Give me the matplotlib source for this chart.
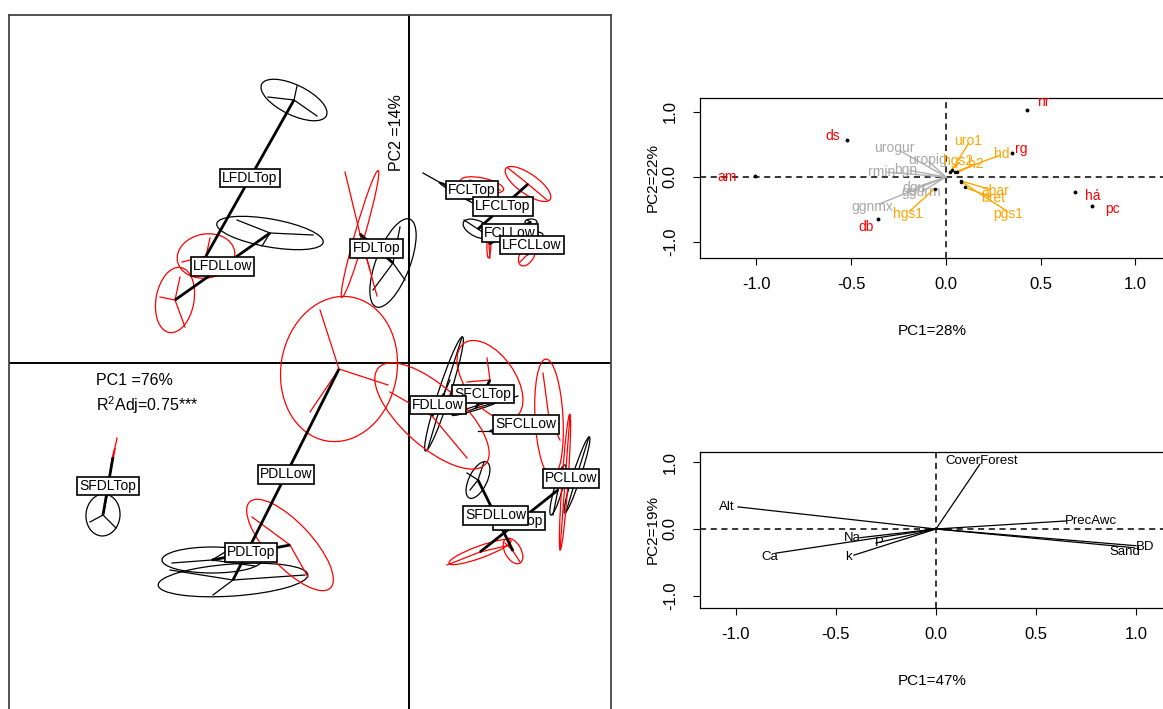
import matplotlib
matplotlib.use('Agg')
import matplotlib.pyplot as plt
from matplotlib.patches import Ellipse

plt.rcParams['font.family'] = ['Liberation Sans', 'DejaVu Sans']
plt.rcParams['mathtext.fontset'] = 'custom'
plt.rcParams['mathtext.rm'] = 'Liberation Sans'
plt.rcParams['axes.unicode_minus'] = False

# ---------------- left panel : class scores (black = table 1, red = table 2)
groups = ['LFDLTop', 'LFDLLow', 'FDLTop', 'FCLTop', 'LFCLTop', 'FCLLow', 'LFCLLow',
          'SFCLTop', 'FDLLow', 'SFCLLow', 'PCLLow', 'PCLTop', 'SFDLLow', 'SFDLTop',
          'PDLTop', 'PDLLow']

black_x = [-1.15, -1.39, -0.16, 0.53, 0.69, 1.22, 1.28, 0.67, 0.35, 0.94, 1.68, 1.49, 0.69, -3.06, -1.97, -1.76]
black_y = [2.63, 1.30, 1.00, 1.68, 1.34, 1.41, 1.28, -0.45, -0.31, -0.68, -1.12, -1.27, -1.17, -1.52, -1.97, -2.17]
red_x = [-2.03, -2.34, -0.49, 0.73, 1.19, 0.80, 1.18, 0.81, 0.23, 1.40, 1.56, 0.71, 1.04, -2.96, -1.19, -0.70]
red_y = [1.07, 0.63, 1.29, 1.78, 1.79, 1.19, 1.08, -0.17, -0.53, -0.55, -1.19, -1.89, -1.88, -0.94, -1.82, -0.06]

# ellipse half axes and angle
black_a = [.36, .54, .47, .26, .16, .06, .06, .25, .60, .13, .40, .26, .20, .21, .50, .75]
black_b = [.15, .14, .17, .02, .08, .03, .03, .02, .06, .02, .04, .04, .09, .17, .13, .16]
black_ang = [-26, -10, 69, -29, -25, 0, 0, 17, 72, 0, 72, 74, 64, 85, 0, 4]
red_a = [.29, .33, .66, .22, .27, .14, .12, .45, .72, .59, .68, .33, .14, .09, .59, .73]
red_b = [.22, .19, .05, .07, .10, .02, .07, .25, .30, .14, .03, .06, .08, .005, .22, .58]
red_ang = [10, 80, 74, -12, -35, 88, 60, -55, -42, 93, 86, 20, -60, 78, -47, 80]

# samples (star ends)
black_pts = [
    [(-1.41, 2.66), (-0.92, 2.47), (-1.12, 2.77)],
    [(-1.72, 1.43), (-0.96, 1.28), (-1.47, 1.17)],
    [(-0.09, 1.36), (-0.04, 0.83), (-0.36, 0.73)],
    [(0.14, 1.90), (0.61, 1.63)],
    [(0.55, 1.43), (0.79, 1.27), (0.81, 1.39)],
    [(1.18, 1.43)],
    [(1.24, 1.30)],
    [(1.09, -0.33), (0.59, -0.48)],
    [(0.53, 0.26), (0.19, -0.85), (0.41, -0.17)],
    [(0.69, -0.68)],
    [(1.80, -0.74), (1.57, -1.49)],
    [(1.53, -1.04), (1.44, -1.52)],
    [(0.75, -0.99), (0.61, -1.27), (0.58, -1.10)],
    [(-3.19, -1.59), (-2.93, -1.65), (-3.02, -1.33)],
    [(-2.37, -2.00), (-1.54, -2.03), (-1.79, -1.86)],
    [(-1.96, -2.32), (-1.04, -2.12), (-2.39, -2.07)],
]
red_pts = [
    [(-1.99, 1.25), (-2.27, 1.01), (-1.85, 0.98)],
    [(-2.49, 0.66), (-2.29, 0.86), (-2.24, 0.36)],
    [(-0.64, 1.91), (-0.32, 0.67), (-0.39, 0.93)],
    [(0.61, 1.83), (0.91, 1.73)],
    [(0.99, 1.95), (1.38, 1.63)],
    [(0.79, 1.33), (0.81, 1.05)],
    [(1.11, 1.01), (1.26, 1.15)],
    [(0.78, 0.05), (0.58, -0.19)],
    [(-0.19, -0.29), (0.58, -0.95)],
    [(1.34, -0.10), (1.51, -0.77)],
    [(1.61, -0.52), (1.51, -1.87)],
    [(0.38, -2.02), (1.01, -1.82)],
    [(1.11, -1.99), (0.96, -1.80)],
    [(-2.92, -0.75)],
    [(-1.57, -1.54), (-1.01, -2.14)],
    [(-0.89, 0.53), (-0.21, -0.22), (-0.99, -0.49)],
]

# ---------------- top right : species + traits
sp_names = ['am', 'ds', 'db', 'nr', 'rg', 'há', 'pc']
sp_x = [-1.01, -0.52, -0.36, 0.43, 0.35, 0.68, 0.77]
sp_y = [0.02, 0.57, -0.65, 1.03, 0.37, -0.23, -0.45]
sp_lx = [-1.156, -0.596, -0.422, 0.512, 0.40, 0.776, 0.88]
sp_ly = [0.0, 0.63, -0.77, 1.15, 0.43, -0.29, -0.49]

gray_names = ['urogur', 'uropig', 'bgn', 'rmin', 'dgu', 'ggurm', 'ggnmx']
gray_x = [-0.27, -0.10, -0.21, -0.34, -0.17, -0.13, -0.39]
gray_y = [0.45, 0.26, 0.11, 0.08, -0.17, -0.23, -0.46]

or_names = ['uro1', 'hgs2', 'h2', 'hd', 'abar', 'bret', 'pgs1', 'hgs1']
or_x0 = [0.03, 0.02, 0.06, 0.05, 0.08, 0.10, 0.08, -0.06]
or_y0 = [0.10, 0.08, 0.07, 0.08, -0.06, -0.16, -0.07, -0.18]
or_x1 = [0.12, 0.07, 0.15, 0.28, 0.23, 0.23, 0.32, -0.19]
or_y1 = [0.52, 0.22, 0.19, 0.33, -0.19, -0.30, -0.52, -0.52]
or_lx = [0.116, 0.063, 0.158, 0.296, 0.259, 0.248, 0.327, -0.20]
or_ly = [0.55, 0.25, 0.20, 0.35, -0.22, -0.32, -0.57, -0.57]

# ---------------- bottom right : environment
env_names = ['Alt', 'CoverForest', 'PrecAwc', 'BD', 'Sand', 'Na', 'Ca', 'P', 'k']
env_x = [-0.99, 0.22, 0.65, 1.00, 0.99, -0.38, -0.80, -0.30, -0.41]
env_y = [0.33, 0.97, 0.12, -0.25, -0.28, -0.13, -0.36, -0.21, -0.39]
env_lx = [-1.045, 0.23, 0.775, 1.045, 0.945, -0.42, -0.83, -0.285, -0.44]
env_ly = [0.33, 1.01, 0.12, -0.27, -0.34, -0.13, -0.42, -0.21, -0.42]

W, H = 1163, 709
fig = plt.figure(figsize=(W / 100, H / 100), dpi=100)


def px_box(l, t, r, b):
    return [l / W, 1 - b / H, (r - l) / W, (b - t) / H]


# ===== left panel
ax = fig.add_axes(px_box(9, 15, 611, 733))
ax.set_xlim(-4.0, 2.02)
ax.set_ylim(-3.70, 3.48)
ax.set_xticks([])
ax.set_yticks([])
for s in ax.spines.values():
    s.set_color('#444444')
    s.set_linewidth(1.3)
ax.axhline(0, color='black', lw=1.4, zorder=1)
ax.axvline(0, color='black', lw=1.4, zorder=1)

sets = [('black', black_x, black_y, black_a, black_b, black_ang, black_pts),
        ('red', red_x, red_y, red_a, red_b, red_ang, red_pts)]
for col, xs, ys, aa, bb, angs, pts in sets:
    for i in range(len(groups)):
        ax.add_patch(Ellipse((xs[i], ys[i]), 2 * aa[i], 2 * bb[i], angle=angs[i],
                             fill=False, ec=col, lw=0.9, zorder=2))
        for px, py in pts[i]:
            ax.plot([xs[i], px], [ys[i], py], color=col, lw=0.9, zorder=2)

for i, g in enumerate(groups):
    ax.plot([black_x[i], red_x[i]], [black_y[i], red_y[i]], color='black', lw=2.0,
            zorder=3, solid_capstyle='butt')
    mx = (black_x[i] + red_x[i]) / 2
    my = (black_y[i] + red_y[i]) / 2
    ax.text(mx, my, g, ha='center', va='center', fontsize=10, zorder=4 + i * 0.01,
            bbox=dict(boxstyle='square,pad=0.16', fc='white', ec='black', lw=1.2))

ax.text(-0.12, 2.30, 'PC2 =14%', rotation=90, ha='center', va='center', fontsize=11.5)
ax.text(-3.13, -0.18, 'PC1 =76%', ha='left', va='center', fontsize=11.5)
ax.text(-3.13, -0.42, r'R$^{2}$Adj=0.75***', ha='left', va='center', fontsize=11.5)


def style_biplot(a, xlabel, ylabel):
    a.set_xticks([-1.0, -0.5, 0.0, 0.5, 1.0])
    a.set_xticklabels(['-1.0', '-0.5', '0.0', '0.5', '1.0'])
    a.set_yticks([-1.0, 0.0, 1.0])
    a.set_yticklabels(['-1.0', '0.0', '1.0'])
    a.tick_params(direction='out', length=5, width=0.8, labelsize=12)
    a.tick_params(axis='x', pad=9)
    a.tick_params(axis='y', labelrotation=90, pad=11)
    for lab in a.get_yticklabels():
        lab.set_va('center')
    for s in a.spines.values():
        s.set_linewidth(0.9)
    a.axhline(0, color='black', lw=1.1, ls=(0, (4, 3)), zorder=1)
    a.axvline(0, color='black', lw=1.1, ls=(0, (4, 3)), zorder=1)
    a.set_xlabel(xlabel, fontsize=11, labelpad=23)
    a.set_ylabel(ylabel, fontsize=11, labelpad=2)


# ===== top right
ax2 = fig.add_axes(px_box(700, 98, 1165, 258))
ax2.set_xlim(-1.298, 1.156)
ax2.set_ylim(-1.246, 1.215)
style_biplot(ax2, 'PC1=28%', 'PC2=22%')

for i, n in enumerate(gray_names):
    ax2.plot([0, gray_x[i] * 0.9], [0, gray_y[i] * 0.9], color='#b0b0b0', lw=1.0, zorder=2)
    ax2.text(gray_x[i], gray_y[i], n, color='#a9a9a9', fontsize=10, ha='center', va='center', zorder=3)
for i, n in enumerate(or_names):
    ax2.plot([or_x0[i], or_x1[i]], [or_y0[i], or_y1[i]], color='orange', lw=1.0, zorder=4)
    ax2.plot(or_x0[i], or_y0[i], 'o', color='black', ms=1.5, zorder=5)
    ax2.text(or_lx[i], or_ly[i], n, color='orange', fontsize=10, ha='center', va='center', zorder=5)
ax2.plot(sp_x, sp_y, 'o', color='black', ms=1.8, ls='none', zorder=5)
for i, n in enumerate(sp_names):
    ax2.text(sp_lx[i], sp_ly[i], n, color='red', fontsize=10, ha='center', va='center',
             zorder=6, clip_on=True)

# ===== bottom right
ax3 = fig.add_axes(px_box(700, 452, 1165, 608))
ax3.set_xlim(-1.18, 1.145)
ax3.set_ylim(-1.18, 1.15)
style_biplot(ax3, 'PC1=47%', 'PC2=19%')
for i, n in enumerate(env_names):
    ax3.plot([0, env_x[i]], [0, env_y[i]], color='black', lw=0.9, zorder=2)
    ax3.text(env_lx[i], env_ly[i], n, fontsize=9.5, ha='center', va='center', zorder=3)

fig.savefig('out.png', dpi=100)
